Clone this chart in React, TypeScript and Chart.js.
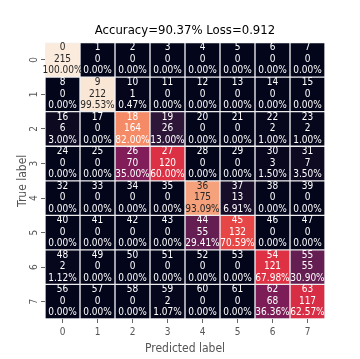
import React, { useEffect, useRef } from "react";
import { Chart, registerables } from "chart.js";

Chart.register(...registerables);

const titleText = "Accuracy=90.37% Loss=0.912";
const xTickLabels = ["0", "1", "2", "3", "4", "5", "6", "7"];
const yTickLabels = ["0", "1", "2", "3", "4", "5", "6", "7"];
const xTitle = "Predicted label";
const yTitle = "True label";

const row0 = [215, 0, 0, 0, 0, 0, 0, 0];
const row1 = [0, 212, 1, 0, 0, 0, 0, 0];
const row2 = [6, 0, 164, 26, 0, 0, 2, 2];
const row3 = [0, 0, 70, 120, 0, 0, 3, 7];
const row4 = [0, 0, 0, 0, 175, 13, 0, 0];
const row5 = [0, 0, 0, 0, 55, 132, 0, 0];
const row6 = [2, 0, 0, 0, 0, 0, 121, 55];
const row7 = [0, 0, 0, 2, 0, 0, 68, 117];
const matrix = [row0, row1, row2, row3, row4, row5, row6, row7];

const rocketPos = [0, 1 / 7, 2 / 7, 3 / 7, 4 / 7, 5 / 7, 6 / 7, 1];
const rocketHex = ["#03051a", "#35193e", "#701f57", "#ad1759", "#e13342", "#f37651", "#f6b48f", "#faebdd"];

const FONT = '"DejaVu Sans Condensed", "DejaVu Sans", sans-serif';

function hexToRgb(h: string) {
  return [parseInt(h.slice(1, 3), 16), parseInt(h.slice(3, 5), 16), parseInt(h.slice(5, 7), 16)];
}

function rocket(t: number) {
  t = Math.max(0, Math.min(1, t));
  let i = 0;
  while (i < rocketPos.length - 2 && t > rocketPos[i + 1]) i++;
  const f = (t - rocketPos[i]) / (rocketPos[i + 1] - rocketPos[i]);
  const a = hexToRgb(rocketHex[i]);
  const b = hexToRgb(rocketHex[i + 1]);
  return a.map((v, k) => Math.round(v + (b[k] - v) * f));
}

function lum(rgb: number[]) {
  const c = rgb.map((v) => {
    const s = v / 255;
    return s <= 0.03928 ? s / 12.92 : Math.pow((s + 0.055) / 1.055, 2.4);
  });
  return 0.2126 * c[0] + 0.7152 * c[1] + 0.0722 * c[2];
}

const vmax = Math.max(...matrix.flat());

export default function App() {
  const ref = useRef<HTMLCanvasElement>(null);
  useEffect(() => {
    if (!ref.current) return;
    const textPlugin = {
      id: "cellText",
      afterDatasetsDraw(chart: any) {
        const ctx = chart.ctx;
        ctx.save();
        ctx.font = `10px ${FONT}`;
        ctx.textAlign = "center";
        ctx.textBaseline = "middle";
        matrix.forEach((row, r) => {
          const meta = chart.getDatasetMeta(r);
          const total = row.reduce((s, v) => s + v, 0);
          row.forEach((v, c) => {
            const bar = meta.data[c];
            const p = bar.getProps(["x", "y", "base"], true);
            const cy = (p.y + p.base) / 2;
            const rgb = rocket(v / vmax);
            ctx.fillStyle = lum(rgb) > 0.408 ? "#262626" : "#ffffff";
            const pct = (total ? (v / total) * 100 : 0).toFixed(2) + "%";
            ctx.fillText(String(r * 8 + c), p.x, cy - 12);
            ctx.fillText(String(v), p.x, cy - 0.5);
            ctx.fillText(pct, p.x, cy + 11);
          });
        });
        ctx.restore();
      },
    };
    const chart = new Chart(ref.current, {
      type: "bar",
      data: {
        labels: xTickLabels,
        datasets: matrix.map((row, r) => ({
          label: yTickLabels[r],
          data: row.map(() => [r, r + 1]),
          backgroundColor: row.map((v) => {
            const c = rocket(v / vmax);
            return `rgb(${c[0]},${c[1]},${c[2]})`;
          }),
          borderColor: "rgba(130,130,150,0.1)",
          borderWidth: 1,
          borderSkipped: false,
          grouped: false,
          barPercentage: 1,
          categoryPercentage: 1,
        })) as any,
      },
      options: {
        responsive: false,
        animation: false,
        devicePixelRatio: 1,
        layout: { padding: { right: 35, left: 0, top: 0, bottom: 0 } },
        plugins: {
          legend: { display: false },
          tooltip: { enabled: false },
          title: {
            display: true,
            text: titleText,
            color: "#000",
            fullSize: false,
            font: { family: FONT, size: 13, weight: "normal" },
            padding: { top: 23, bottom: 4 },
          },
        },
        scales: {
          x: {
            type: "category",
            offset: true,
            grid: { display: true, drawOnChartArea: false, offset: false, tickLength: 4, color: "#666", tickWidth: 1 },
            border: { display: false },
            ticks: { color: "#555", font: { family: FONT, size: 10 }, padding: 3, maxRotation: 0, minRotation: 0 },
            title: { display: true, text: xTitle, color: "#555", font: { family: FONT, size: 12 }, padding: { top: 0, bottom: 3 } },
            afterFit: (s: any) => {
              s.height = 40;
            },
          },
          y: {
            type: "linear",
            reverse: true,
            min: 0,
            max: 8,
            afterBuildTicks: (s: any) => {
              s.ticks = yTickLabels.map((_, i) => ({ value: i + 0.5 }));
            },
            grid: { display: true, drawOnChartArea: false, tickLength: 4, color: "#666", tickWidth: 1 },
            border: { display: false },
            ticks: {
              color: "#555",
              font: { family: FONT, size: 10 },
              padding: 4,
              minRotation: 90,
              maxRotation: 90,
              crossAlign: "center",
              callback: (_v: any, i: number) => yTickLabels[i],
            },
            title: { display: true, text: yTitle, color: "#555", font: { family: FONT, size: 12 }, padding: { top: 16, bottom: 0 } },
            afterFit: (s: any) => {
              s.width = 45;
            },
          },
        },
      } as any,
      plugins: [textPlugin],
    });
    return () => chart.destroy();
  }, []);
  return (
    <div style={{ position: "fixed", left: 0, top: 0, width: 360, height: 359, background: "#fff" }}>
      <canvas ref={ref} width={360} height={359} style={{ display: "block", width: 360, height: 359 }} />
    </div>
  );
}
